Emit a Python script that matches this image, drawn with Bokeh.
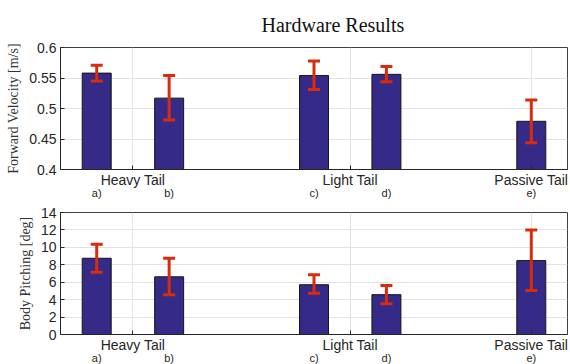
from bokeh.plotting import figure
from bokeh.layouts import column
from bokeh.models import (FixedTicker, LinearAxis, Whisker, TeeHead,
                          ColumnDataSource, Range1d)
from bokeh.embed import file_html
from bokeh.resources import INLINE

# ---- data ----
groups = ["Heavy Tail", "Light Tail", "Passive Tail"]
group_members = [["a)", "b)"], ["c)", "d)"], ["e)"]]
labels = ["a)", "b)", "c)", "d)", "e)"]

velocity = [0.558, 0.517, 0.554, 0.556, 0.479]
velocity_lo = [0.545, 0.481, 0.531, 0.544, 0.444]
velocity_hi = [0.571, 0.554, 0.578, 0.569, 0.514]

pitch = [8.75, 6.62, 5.71, 4.57, 8.48]
pitch_lo = [7.15, 4.57, 4.72, 3.54, 5.06]
pitch_hi = [10.35, 8.75, 6.85, 5.63, 11.99]

vel_ticks = [0.4, 0.45, 0.5, 0.55, 0.6]
vel_tick_labels = ["0.4", "0.45", "0.5", "0.55", "0.6"]
pitch_ticks = [0, 2, 4, 6, 8, 10, 12, 14]

# ---- layout of bar slots (groups separated by one empty slot) ----
bar_x = []
group_x = []
slot = 0
for members in group_members:
    xs = []
    for _ in members:
        xs.append(slot)
        slot += 1
    bar_x.extend(xs)
    group_x.append(sum(xs) / len(xs))
    slot += 1

BAR = "#352a87"
ERR = "#d92c0c"
TXT = "#262626"
GRID = "#e3e3e3"
FRAME = "#404040"


def make_fig(yr, yticks, ylabel, vals, lo, hi, border_top, border_bottom,
             title=None, yoverrides=None):
    p = figure(frame_width=507, frame_height=122, x_range=Range1d(-0.5, 6.5),
               y_range=Range1d(*yr),
               output_backend="svg", toolbar_location=None,
               min_border_left=60, min_border_right=3, min_border_top=border_top,
               min_border_bottom=border_bottom)
    p.background_fill_color = "white"
    p.border_fill_color = "white"
    p.outline_line_color = FRAME
    p.outline_line_width = 1

    if title:
        p.title.text = title
        p.title.text_font = "Liberation Serif"
        p.title.text_font_size = "20px"
        p.title.text_font_style = "normal"
        p.title.text_color = "#111111"
        p.title.align = "left"
        p.title.offset = 201
        p.title.standoff = 23

    src = ColumnDataSource(dict(x=bar_x, v=vals, lo=lo, hi=hi))
    p.vbar(x="x", top="v", bottom=0, width=0.4, source=src,
           fill_color=BAR, line_color="#151515", line_width=1)
    head_kw = dict(size=12, line_color=ERR, line_width=3)
    p.add_layout(Whisker(source=src, base="x", upper="hi", lower="lo",
                         line_color=ERR, line_width=3, level="overlay",
                         upper_head=TeeHead(**head_kw), lower_head=TeeHead(**head_kw)))

    # x axis: group names
    xa = p.xaxis[0]
    xa.ticker = FixedTicker(ticks=group_x)
    xa.major_label_overrides = {g: n for g, n in zip(group_x, groups)}
    xa.major_label_text_font = "Liberation Sans"
    xa.major_label_text_font_size = "14px"
    xa.major_label_text_color = TXT
    xa.major_tick_in = 4
    xa.major_tick_out = 0
    xa.minor_tick_line_color = None
    xa.major_label_standoff = 2
    xa.axis_line_color = TXT
    xa.major_tick_line_color = TXT

    # second row: bar letters
    xb = LinearAxis(ticker=FixedTicker(ticks=bar_x),
                    major_label_overrides={x: l for x, l in zip(bar_x, labels)},
                    axis_line_color=None, major_tick_line_color=None,
                    minor_tick_line_color=None, major_label_standoff=-4,
                    major_tick_in=0, major_tick_out=0,
                    major_label_text_font="Liberation Sans",
                    major_label_text_font_size="11px",
                    major_label_text_color=TXT)
    p.add_layout(xb, "below")

    ya = p.yaxis[0]
    ya.ticker = FixedTicker(ticks=yticks)
    if yoverrides:
        ya.major_label_overrides = yoverrides
    ya.major_label_text_font = "Liberation Sans"
    ya.major_label_text_font_size = "14px"
    ya.major_label_text_color = TXT
    ya.major_tick_in = 4
    ya.major_tick_out = 0
    ya.minor_tick_line_color = None
    ya.major_label_standoff = 4
    ya.axis_line_color = TXT
    ya.major_tick_line_color = TXT
    ya.axis_label = ylabel
    ya.axis_label_text_font = "Liberation Serif"
    ya.axis_label_text_font_size = "14px"
    ya.axis_label_text_font_style = "normal"
    ya.axis_label_text_color = "#333333"
    ya.axis_label_standoff = 5

    p.xgrid.ticker = FixedTicker(ticks=group_x)
    p.ygrid.ticker = FixedTicker(ticks=yticks)
    p.xgrid.grid_line_color = GRID
    p.ygrid.grid_line_color = GRID
    return p


p1 = make_fig((0.4, 0.6), vel_ticks, "Forward Velocity [m/s]",
              velocity, velocity_lo, velocity_hi, 46, 32, title="Hardware Results",
              yoverrides={t: s for t, s in zip(vel_ticks, vel_tick_labels)})
p2 = make_fig((0, 14), pitch_ticks, "Body Pitching [deg]",
              pitch, pitch_lo, pitch_hi, 11, 30)

layout = column(p1, p2, spacing=0)
open("out.html", "w").write(file_html(layout, INLINE))
